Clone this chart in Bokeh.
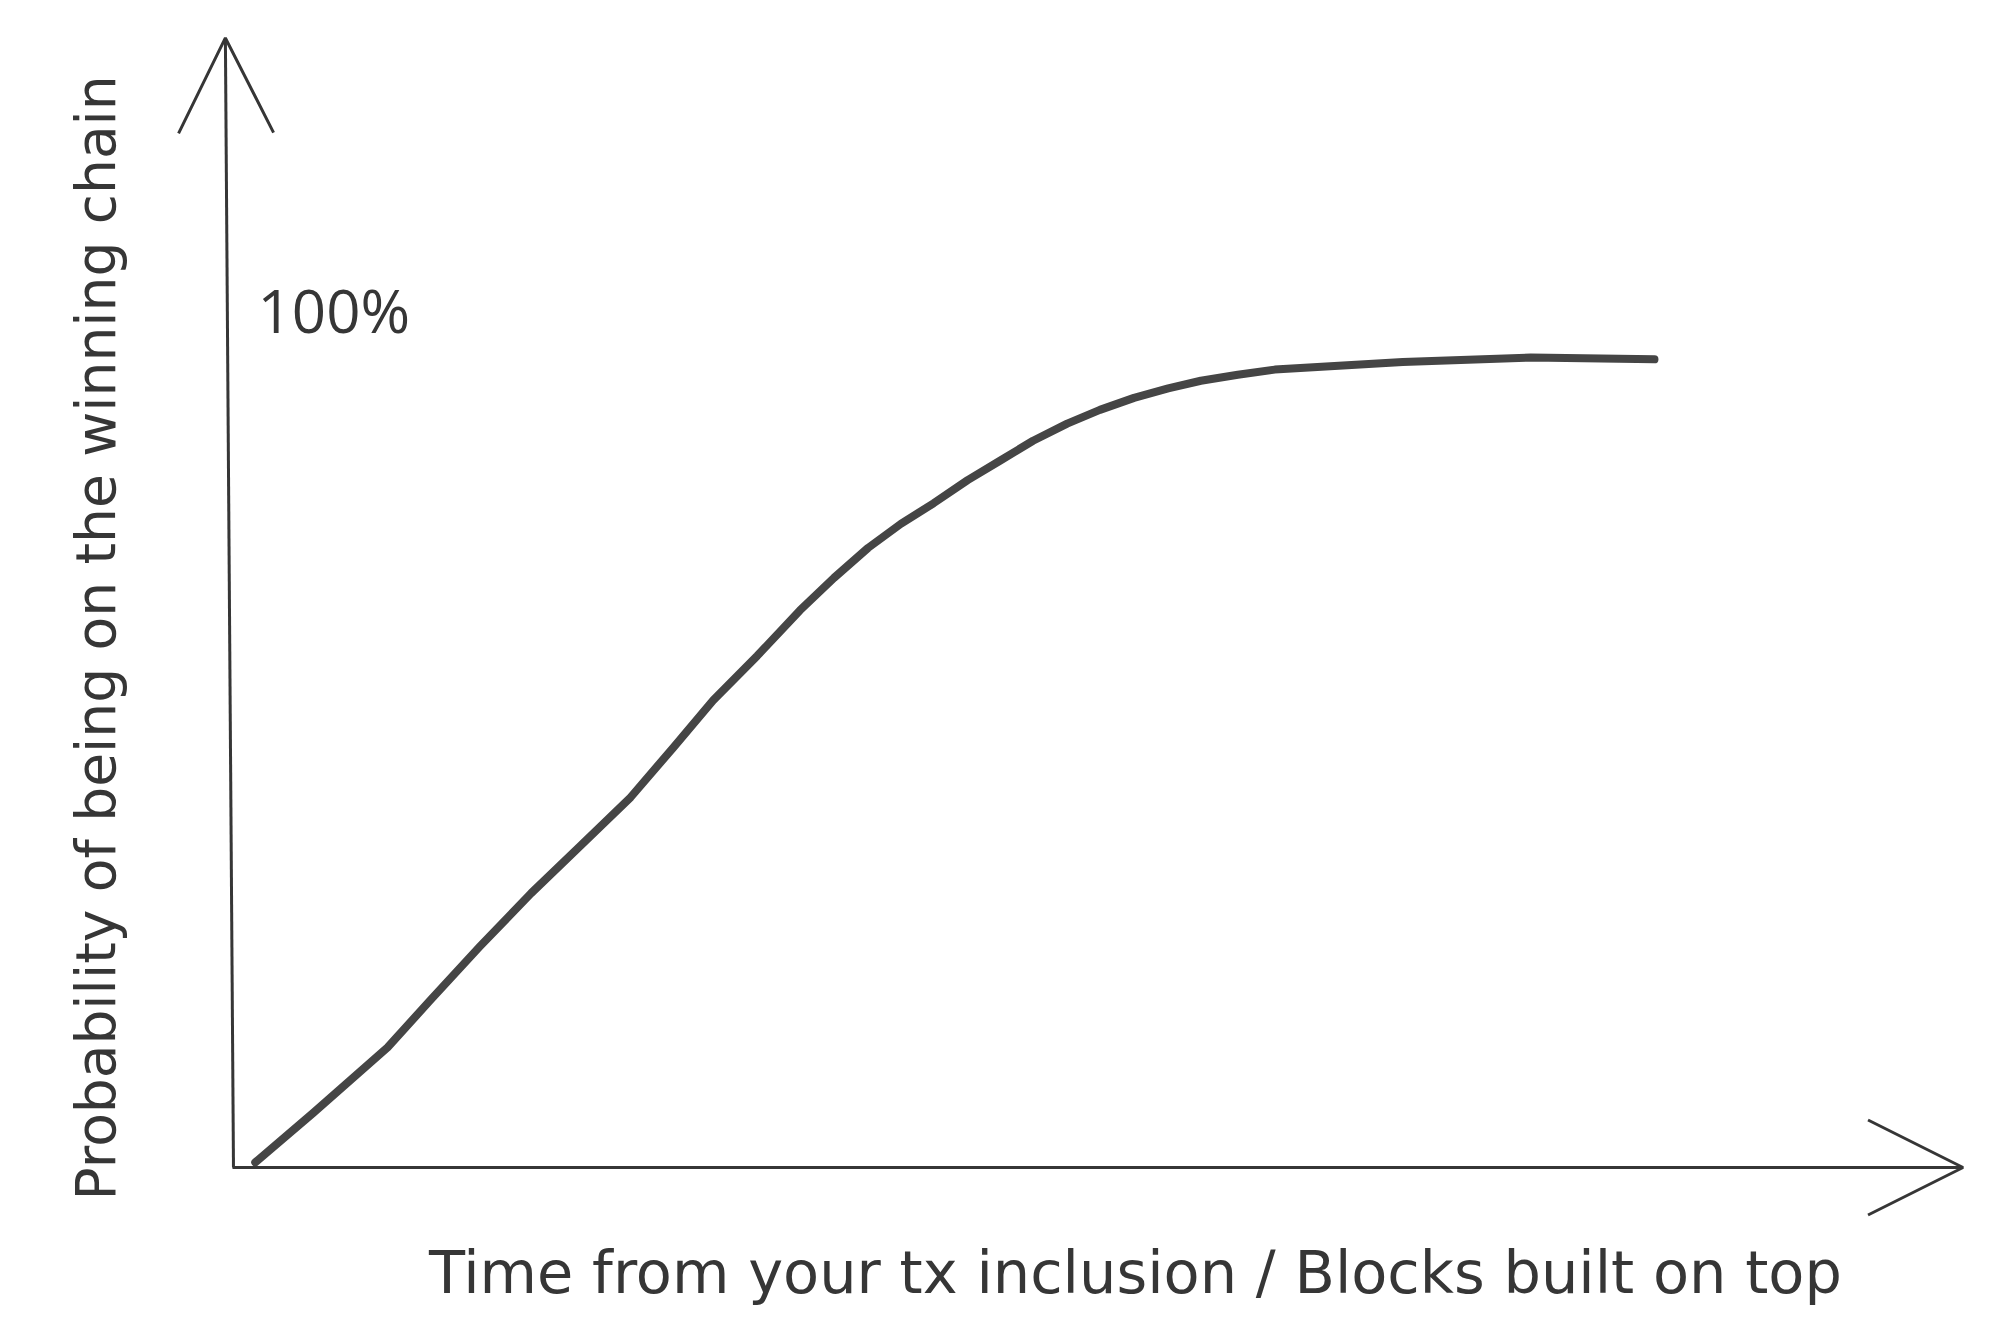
from bokeh.plotting import figure
from bokeh.models import Range1d, Label, Arrow, OpenHead
from bokeh.embed import file_html
from bokeh.resources import INLINE
import math

# ---- data ----
blocks = [0.16, 0.57, 1.09, 1.39, 1.74, 2.10, 2.45, 2.80, 3.10, 3.38, 3.69,
          3.99, 4.23, 4.47, 4.70, 4.93, 5.17, 5.40, 5.63, 5.87, 6.10, 6.34,
          6.58, 6.81, 7.07, 7.33, 8.23, 9.13, 10.0]
probability = [0.006, 0.064, 0.140, 0.195, 0.258, 0.320, 0.376, 0.432, 0.490,
               0.545, 0.597, 0.650, 0.688, 0.723, 0.751, 0.775, 0.802, 0.825,
               0.848, 0.868, 0.884, 0.898, 0.909, 0.918, 0.925, 0.931, 0.940,
               0.945, 0.943]
top_label = "100%"
x_label = "Time from your tx inclusion / Blocks built on top"
y_label = "Probability of being on the winning chain"

INK = "#363636"

p = figure(width=1984, height=1326, output_backend="svg", toolbar_location=None,
           x_axis_type=None, y_axis_type=None, min_border=0,
           x_range=Range1d(-1.6315, 12.321), y_range=Range1d(-0.18553, 1.3617))
p.grid.visible = False
p.outline_line_color = None
p.background_fill_color = "white"
p.border_fill_color = "white"

# hand-drawn axes with open arrow heads
p.add_layout(Arrow(x_start=0.007, y_start=0.0, x_end=-0.05, y_end=1.318,
                   line_color=INK, line_width=3,
                   end=OpenHead(size=95, line_color=INK, line_width=3)))
p.add_layout(Arrow(x_start=0.0, y_start=0.0, x_end=12.17, y_end=0.0,
                   line_color=INK, line_width=3,
                   end=OpenHead(size=95, line_color=INK, line_width=3)))

# curve
p.line(blocks, probability, line_width=8, line_color="#454545",
       line_cap="round", line_join="round")

# texts
p.add_layout(Label(x=0.176, y=1.0, text=top_label, text_font="Open Sans",
                   text_font_size="60px", text_color=INK,
                   text_baseline="middle", text_align="left"))
p.add_layout(Label(x=6.35, y=-0.123, text=x_label, text_font="DejaVu Sans",
                   text_font_size="59px", text_color=INK,
                   text_baseline="alphabetic", text_align="center"))
p.add_layout(Label(x=-0.963, y=0.618, text=y_label, text_font="DejaVu Sans",
                   text_font_size="55px", text_color=INK, angle=math.pi / 2,
                   text_baseline="middle", text_align="center"))

open("out.html", "w").write(file_html(p, INLINE))
